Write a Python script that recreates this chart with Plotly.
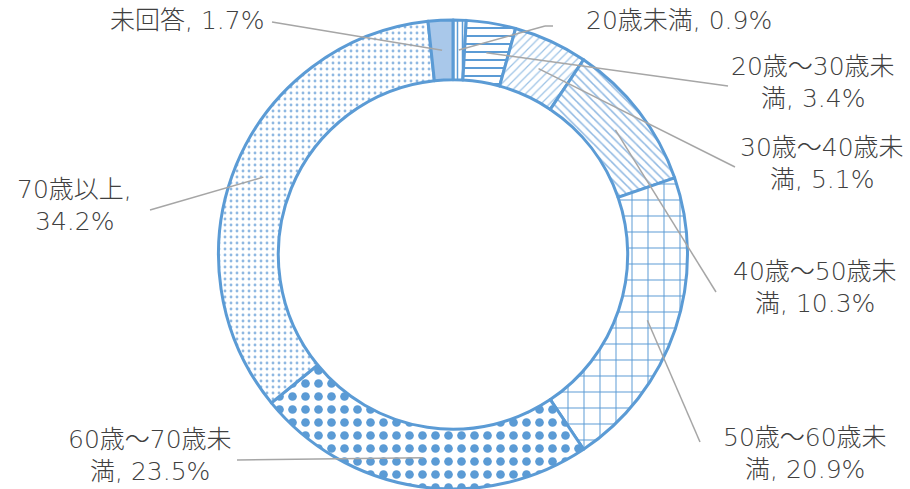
import math
import plotly.graph_objects as go

categories = ["20歳未満", "20歳～30歳未満", "30歳～40歳未満", "40歳～50歳未満",
              "50歳～60歳未満", "60歳～70歳未満", "70歳以上", "未回答"]
values = [0.9, 3.4, 5.1, 10.3, 20.9, 23.5, 34.2, 1.7]

# layout constants (pixels)
W, H = 910, 489
CX, CY, R_OUT = 453, 255, 235
HOLE = 0.745
R_MID = 205
BLUE = "#5b9bd5"
GRAY_LINE = "#a6a6a6"
TEXT = "#404040"
FONT = "DejaVu Sans, Noto Sans CJK JP"
FS = 25
Y_SHIFT = -1

# where each label line is broken (None = single line)
breaks = [None, 8, 8, 8, 8, 8, 6, None]
# label anchor (pixels): (x, y_first_line, xanchor), leader start points
label_pos = [(584, 22, "left"), (813, 68, "center"), (822, 148, "center"), (815, 272, "center"),
             (805, 438, "center"), (150, 440, "center"), (74, 190, "center"), (266, 22, "right")]
leader_start = [[(553, 26), (545, 26)], [(728, 86)], [(735, 167)], [(716, 292)],
                [(700, 442)], [(237, 460)], [(150, 210)], [(272, 22)]]
LINE_GAP = 32

shapes_ = ["|", "-", "/", "\\", "+", ".", ".", ""]
sizes = [5, 8, 6, 6, 16, 13, 6, 8]
solid = [0.3, 0.25, 0.2, 0.25, 0.12, 0.35, 0.18, 0.3]
fgcol = [BLUE, BLUE, "#9dc3e6", "#8fb8e2", BLUE, BLUE, "#8fb8e2", BLUE]
fill = ["white"] * 7 + ["#a9c8ea"]


def px(x):
    return x / W


def py(y):
    return 1 - y / H


fig = go.Figure(go.Pie(
    labels=categories, values=values, sort=False, direction="clockwise", rotation=0,
    hole=HOLE, textinfo="none", hoverinfo="label+percent",
    domain=dict(x=[(CX - R_OUT) / W, (CX + R_OUT) / W], y=[0, 1 - (CY - R_OUT) / H]),
    marker=dict(colors=fill, line=dict(color=BLUE, width=3),
                pattern=dict(shape=shapes_, size=sizes, solidity=solid,
                             fgcolor=fgcol, bgcolor=fill, fillmode="replace")),
    showlegend=False,
))

annotations = []
shapes = []
total = sum(values)
cum = 0.0
for i, (cat, v) in enumerate(zip(categories, values)):
    mid = (cum + v / 2) / total * 2 * math.pi
    cum += v
    ex = CX + R_MID * math.sin(mid)
    ey = CY - R_MID * math.cos(mid)
    text = f"{cat}, {v}%"
    lines = [text] if breaks[i] is None else [text[:breaks[i]], text[breaks[i]:].strip()]
    lx, ly, anc = label_pos[i]
    for j, ln in enumerate(lines):
        annotations.append(dict(x=px(lx), y=py(ly + Y_SHIFT + j * LINE_GAP), xref="paper", yref="paper",
                                text=ln, showarrow=False, xanchor=anc, yanchor="middle",
                                font=dict(family=FONT, size=FS, color=TEXT, weight=300)))
    pts = leader_start[i] + [(ex, ey)]
    for (x0, y0), (x1, y1) in zip(pts[:-1], pts[1:]):
        shapes.append(dict(type="line", xref="paper", yref="paper",
                           x0=px(x0), y0=py(y0), x1=px(x1), y1=py(y1),
                           line=dict(color=GRAY_LINE, width=1.5)))

fig.update_layout(width=W, height=H, margin=dict(l=0, r=0, t=0, b=0),
                  paper_bgcolor="white", plot_bgcolor="white",
                  annotations=annotations, shapes=shapes)
fig.write_html("out.html", config={"displayModeBar": False},
               post_script="document.body.style.margin='0';")
